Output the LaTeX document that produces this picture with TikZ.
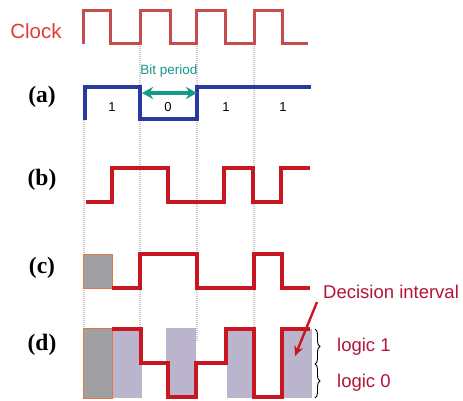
\documentclass[tikz,border=0pt]{standalone}
\usepackage{fontspec}
\setmainfont{Liberation Sans}
\newfontfamily\panelfont{Liberation Serif}
\usetikzlibrary{arrows.meta, decorations.pathreplacing}
\definecolor{clockcolor}{RGB}{196, 78, 78}
\definecolor{clocktext}{RGB}{226, 58, 58}
\definecolor{nrzcolor}{RGB}{40, 58, 160}
\definecolor{bitcolor}{RGB}{22, 152, 140}
\definecolor{sigcolor}{RGB}{200, 22, 34}
\definecolor{deccolor}{RGB}{178, 20, 58}
\definecolor{winfill}{RGB}{186, 180, 205}
\definecolor{boxfill}{RGB}{160, 160, 163}
\definecolor{boxedge}{RGB}{228, 118, 66}
\definecolor{guidecolor}{RGB}{200, 200, 200}

\begin{document}
\begin{tikzpicture}[
    x=1pt, y=-1pt,
    guide/.style={
        draw=guidecolor,
        line width=1.3pt,
        dash pattern=on 1pt off 1pt
    },
    clockwave/.style={
        draw=clockcolor,
        line width=3pt
    },
    nrzwave/.style={
        draw=nrzcolor,
        line width=3.2pt
    },
    sigwave/.style={
        draw=sigcolor,
        line width=3.5pt,
        line join=miter
    },
    panel/.style={
        font=\panelfont\bfseries\fontsize{23.5}{26}\selectfont
    },
    bitval/.style={
        font=\fontsize{13}{15}\selectfont
    },
    window/.style={
        fill=winfill
    },
    blanked/.style={
        fill=boxfill,
        draw=boxedge,
        line width=1pt
    },
    bitarrow/.style={
        {Stealth[length=11pt,width=12pt]}-{Stealth[length=11pt,width=12pt]},
        draw=bitcolor,
        line width=3.2pt
    },
    decarrow/.style={
        -{Stealth[length=10pt,width=9pt]},
        draw=sigcolor,
        line width=2.4pt
    },
    levelbrace/.style={
        decorate,
        decoration={brace, amplitude=5pt},
        draw=black,
        line width=0.9pt
    },
    tag/.style={
        font=\fontsize{18.5}{21}\selectfont,
        anchor=west,
        inner sep=0pt
    }
]
\useasboundingbox (0,0) rectangle (463,401);

% ==================== GUIDE LINES ====================
\draw[guide] (84,120) -- (84,329);
\draw[guide] (140,44) -- (140,329);
\draw[guide] (197,44) -- (197,342);
\draw[guide] (254,44) -- (254,329);

% ==================== CLOCK ====================
\node[font=\fontsize{20.5}{24}\selectfont, text=clocktext] (clocklbl) at (36,31) {Clock};
\draw[clockwave] (83,44) -- (83,11) -- (110,11) -- (110,44) -- (140,44) -- (140,11)
    -- (170,11) -- (170,44) -- (196,44) -- (196,11) -- (225,11) -- (225,44)
    -- (254,44) -- (254,11) -- (282,11) -- (282,44) -- (308,44);

% ==================== (a) NRZ DATA ====================
\node[panel] (lbla) at (42,97) {(a)};
\draw[nrzwave] (85,120) -- (85,87) -- (140,87) -- (140,119) -- (197,119) -- (197,87) -- (311,87);
\node[bitval] (bit1) at (112,107) {1};
\node[bitval] (bit2) at (168,107) {0};
\node[bitval] (bit3) at (226,107) {1};
\node[bitval] (bit4) at (283,107) {1};
\node[font=\fontsize{13.5}{16}\selectfont, text=bitcolor] (bitlbl) at (169,71) {Bit period};
\coordinate (bpleft) at (142,93);
\coordinate (bpright) at (197,93);
\draw[bitarrow] (bpleft) -- (bpright);

% ==================== (b) ====================
\node[panel] (lblb) at (42,180) {(b)};
\draw[sigwave] (86,202) -- (112,202) -- (112,168) -- (168,168) -- (168,202) -- (224,202)
    -- (224,168) -- (253,168) -- (253,202) -- (281,202) -- (281,168) -- (310,168);

% ==================== (c) ====================
\node[panel] (lblc) at (42,268) {(c)};
\draw[blanked] (83,254) rectangle (112,288);
\draw[sigwave] (112,288) -- (140,288) -- (140,254) -- (197,254) -- (197,288) -- (254,288)
    -- (254,254) -- (282,254) -- (282,288) -- (310,288);

% ==================== (d) ====================
\node[panel] (lbld) at (42,345) {(d)};
\fill[window] (112,330) rectangle (142,398);
\fill[window] (166,328) rectangle (196,398);
\fill[window] (227,329) rectangle (254,398);
\fill[window] (282,329) rectangle (312,398);
\draw[blanked] (83,328) rectangle (112,398);
\draw[sigwave] (112,329) -- (141,329) -- (141,363) -- (168,363) -- (168,397) -- (196,397)
    -- (196,363) -- (226,363) -- (226,329) -- (254,329) -- (254,397) -- (282,397)
    -- (282,329) -- (310,329);

% ==================== DECISION ====================
\node[tag, text=deccolor] (declbl) at (323,292) {Decision interval};
\coordinate (decstart) at (317,302);
\coordinate (dectip) at (295,356);
\draw[decarrow] (decstart) -- (dectip);

\draw[levelbrace] (315,329) -- (315,364);
\draw[levelbrace] (315,364) -- (315,398);
\node[tag, text=deccolor] (logic1) at (337,347) {logic 1};
\node[tag, text=deccolor] (logic0) at (337,383) {logic 0};

\end{tikzpicture}
\end{document}
